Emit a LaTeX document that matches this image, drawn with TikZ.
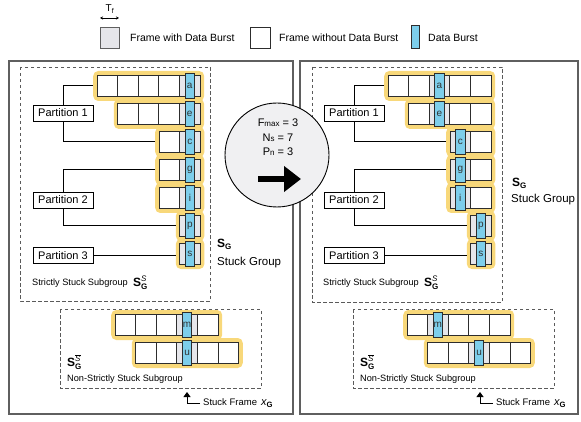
\documentclass[tikz,border=0pt]{standalone}
\usepackage{fontspec}
\setmainfont{Liberation Sans}
\usepackage{amsmath}
\usetikzlibrary{arrows.meta}
\pgfdeclarelayer{bg}
\pgfsetlayers{bg,main}
\definecolor{hly}{RGB}{248,216,122}
\definecolor{burstc}{RGB}{125,206,235}
\definecolor{cellg}{RGB}{230,230,234}
\definecolor{cellb}{RGB}{45,45,45}
\definecolor{panelc}{RGB}{95,95,95}
\definecolor{dashc}{RGB}{90,90,90}
\definecolor{circf}{RGB}{240,240,242}
\newcommand\setfs[1]{\fontsize{#1}{#1}\selectfont}
\tikzset{
  hl/.style={fill=hly, rounded corners=5pt, minimum height=30pt, inner sep=0pt, draw=none},
  cell/.style={draw=cellb, fill=white, line width=0.8pt},
  burst/.style={draw=cellb, fill=burstc, minimum width=9.5pt, minimum height=25pt, inner sep=0pt, line width=0.8pt, font=\setfs{10}, text=black!80},
  partbox/.style={draw=black, fill=white, minimum width=60pt, minimum height=16pt, inner sep=1pt, line width=0.8pt, font=\setfs{11}},
  conn/.style={draw=black, line width=1pt},
  panel/.style={draw=panelc, line width=1.3pt},
  dbox/.style={draw=dashc, line width=0.8pt, dash pattern=on 3.5pt off 2.5pt},
  lbl/.style={anchor=west, inner sep=0pt},
  sfarrow/.style={draw=black, line width=0.9pt, -{Triangle[length=5pt,width=7pt]}}
}
% name, x0, yc, n, gray index, label
\newcommand\frow[6]{%
  \begin{pgfonlayer}{bg}
    \node[hl, minimum width={#4*20.6pt+8pt}, anchor=west] (#1) at ({#2-4},#3) {};
  \end{pgfonlayer}
  \foreach \k in {1,...,#4}{\draw[cell] ({#2+(\k-1)*20.6},{#3-10.5}) rectangle ++(20.6,21);}
  \draw[cell,fill=cellg] ({#2+(#5-1)*20.6},{#3-10.5}) rectangle ++(20.6,21);
  \node[burst] (#1b) at ({#2+(#5-0.5)*20.6},#3) {#6};
}
\begin{document}
\begin{tikzpicture}[x=1pt,y=-1pt]
\useasboundingbox (0,0) rectangle (581,422);

% ---------- legend ----------
\node[inner sep=0pt, font=\setfs{10}] (tf) at (110,9) {T\textsubscript{f}};
\coordinate (tfa) at (100,18);
\coordinate (tfb) at (119,18);
\draw[line width=0.8pt, {Stealth[length=3pt,width=3pt]}-{Stealth[length=3pt,width=3pt]}] (tfa) -- (tfb);
\draw[cell, fill=cellg, draw=panelc] (100,27) rectangle (119,48);
\node[lbl, font=\setfs{10.5}] (lg1) at (130,37.5) {Frame with Data Burst};
\draw[cell] (250,27) rectangle (270,48);
\node[lbl, font=\setfs{10.5}] (lg2) at (279,37.5) {Frame without Data Burst};
\draw[draw=cellb, fill=burstc, line width=0.8pt] (411,25) rectangle (419,48);
\node[lbl, font=\setfs{10.5}] (lg3) at (428,37.5) {Data Burst};

% ---------- panels ----------
\draw[panel] (9,61) rectangle (293,414);
\draw[panel] (300,61) rectangle (578,414);

% ---------- left panel ----------
\draw[dbox] (20,67) rectangle (210,301);
\draw[dbox] (60,309) rectangle (261,388);

\frow{La}{97}{86}{5}{5}{a}
\frow{Le}{117.6}{114}{4}{4}{e}
\frow{Lc}{159}{142}{2}{2}{c}
\frow{Lg}{159}{170}{2}{2}{g}
\frow{Li}{159}{198}{2}{2}{i}
\frow{Lp}{179.6}{226}{1}{1}{p}
\frow{Ls}{179.6}{254}{1}{1}{s}
\frow{Lm}{115}{325}{5}{4}{m}
\frow{Lu}{135.6}{353}{5}{3}{u}

\node[partbox] (LP1) at (63,113) {Partition 1};
\node[partbox] (LP2) at (63,200) {Partition 2};
\node[partbox] (LP3) at (63,255.5) {Partition 3};
\draw[conn] (La.west) -| (LP1.north);
\draw[conn] (Lc.west) -| (LP1.south);
\draw[conn] (Lg.west) -| (LP2.north);
\draw[conn] (Lp.west) -| (LP2.south);
\draw[conn] (LP3.east) -- (LP3.east -| Ls.west);

\node[lbl, font=\setfs{12}] (LSG) at (217,244) {$\textbf{S}_{\textbf{G}}$};
\node[lbl, font=\setfs{11.5}] (LSGt) at (217,263) {Stuck Group};
\node[lbl, font=\setfs{9.2}] (LSS) at (32,283) {Strictly Stuck Subgroup};
\node[lbl, font=\setfs{12}] (LSSs) at (133,283) {$\textbf{S}^{\textit{S}}_{\textbf{G}}$};
\node[lbl, font=\setfs{12}] (LNS) at (67,362) {$\textbf{S}^{\overline{\textit{S}}}_{\textbf{G}}$};
\node[lbl, font=\setfs{9.2}] (LNSt) at (67,379) {Non-Strictly Stuck Subgroup};

\node[lbl, font=\setfs{9.5}] (LSF) at (203,403) {Stuck Frame\hspace{4pt}\setfs{11}$\textit{x}_{\textbf{G}}$};
\coordinate (LSFtip) at (187,392);
\draw[sfarrow] ([xshift=-3pt]LSF.west) -| (LSFtip);

% ---------- right panel ----------
\draw[dbox] (312,67) rectangle (502,302);
\draw[dbox] (353,309) rectangle (554,388);

\frow{Ra}{388}{86}{5}{3}{a}
\frow{Re}{408.6}{114}{4}{2}{e}
\frow{Rc}{450}{142}{2}{1}{c}
\frow{Rg}{450}{170}{2}{1}{g}
\frow{Ri}{450}{198}{2}{1}{i}
\frow{Rp}{470.6}{226}{1}{1}{p}
\frow{Rs}{470.6}{254}{1}{1}{s}
\frow{Rm}{407}{325}{5}{2}{m}
\frow{Ru}{427.6}{353}{5}{3}{u}

\node[partbox] (RP1) at (354,113) {Partition 1};
\node[partbox] (RP2) at (354,200) {Partition 2};
\node[partbox] (RP3) at (354,255.5) {Partition 3};
\draw[conn] (Ra.west) -| (RP1.north);
\draw[conn] (Rc.west) -| (RP1.south);
\draw[conn] (Rg.west) -| (RP2.north);
\draw[conn] (Rp.west) -| (RP2.south);
\draw[conn] (RP3.east) -- (RP3.east -| Rs.west);

\node[lbl, font=\setfs{12}] (RSG) at (512,183) {$\textbf{S}_{\textbf{G}}$};
\node[lbl, font=\setfs{11.5}] (RSGt) at (511,200) {Stuck Group};
\node[lbl, font=\setfs{9.2}] (RSS) at (323,283) {Strictly Stuck Subgroup};
\node[lbl, font=\setfs{12}] (RSSs) at (424,283) {$\textbf{S}^{\textit{S}}_{\textbf{G}}$};
\node[lbl, font=\setfs{12}] (RNS) at (360,362) {$\textbf{S}^{\overline{\textit{S}}}_{\textbf{G}}$};
\node[lbl, font=\setfs{9.2}] (RNSt) at (360,379) {Non-Strictly Stuck Subgroup};

\node[lbl, font=\setfs{9.5}] (RSF) at (496,403) {Stuck Frame\hspace{4pt}\setfs{11}$\textit{x}_{\textbf{G}}$};
\coordinate (RSFtip) at (480,392);
\draw[sfarrow] ([xshift=-3pt]RSF.west) -| (RSFtip);

% ---------- centre circle ----------
\node[circle, draw=black, fill=circf, line width=0.9pt, minimum size=104pt, inner sep=0pt] (circ) at (277,155) {};
\node[inner sep=0pt, font=\setfs{11}] (tF) at (278,123) {F{\setfs{8}max} = 3};
\node[inner sep=0pt, font=\setfs{11}] (tN) at (278,137.5) {N{\setfs{8}s} = 7};
\node[inner sep=0pt, font=\setfs{11}] (tP) at (278,151.5) {P{\setfs{8}n} = 3};
\coordinate (arA) at (258,179);
\coordinate (arB) at (301,179);
\draw[line width=6pt, -{Triangle[length=17pt,width=25pt]}] (arA) -- (arB);
\end{tikzpicture}
\end{document}
